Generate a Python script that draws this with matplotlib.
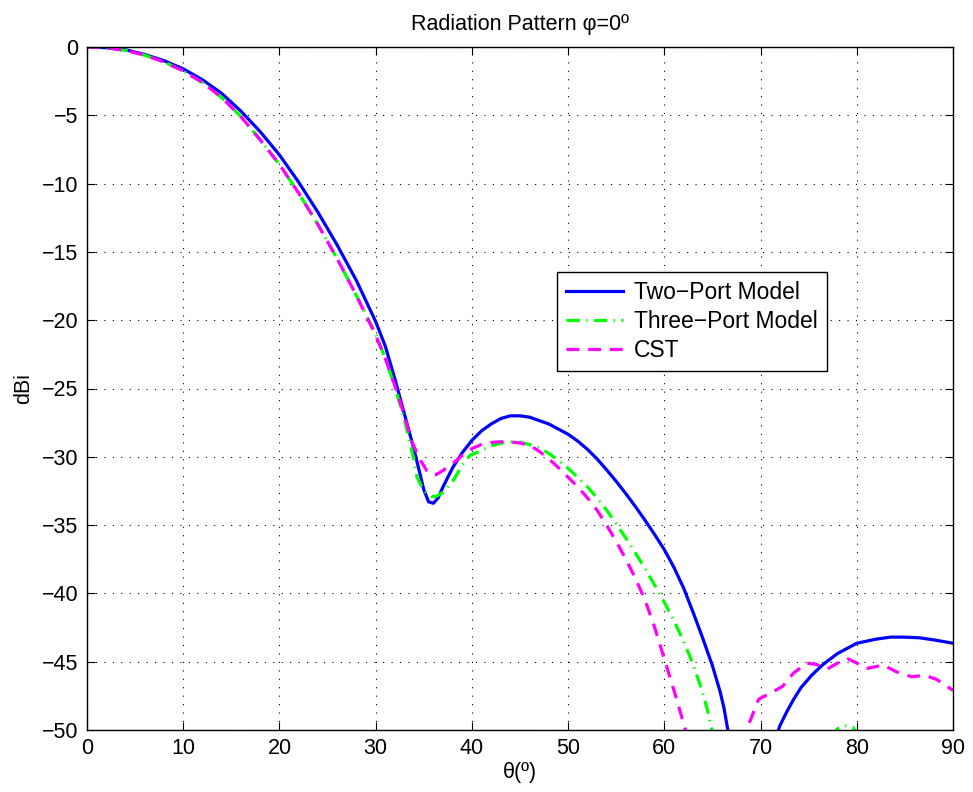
import numpy as np
import matplotlib
matplotlib.use("Agg")
import matplotlib.pyplot as plt

plt.rcParams['font.family'] = ['Liberation Sans', 'DejaVu Sans']

# Two-Port Model (blue solid)
theta_two = [0, 2, 4, 6, 8, 10, 12, 14, 16, 18, 20, 22, 24, 26, 28, 30, 31, 32, 33, 34, 35, 35.5, 36,
             36.5, 37, 38, 39, 40, 41, 42, 43, 44, 45, 46, 48, 50, 51, 52, 53, 54, 55, 56, 57, 58, 59, 60,
             61, 62, 63, 64, 65, 65.8, 66.2, 66.6, 67.0, np.nan,
             71.4, 72, 72.7, 73.4, 74.2, 75.3, 76.5, 78, 80, 82, 83.5, 84.8, 86.5, 88, 90]
db_two = [0, -0.05, -0.2, -0.55, -1.0, -1.6, -2.4, -3.4, -4.7, -6.2, -7.9, -9.9, -12.1, -14.5, -17.1,
          -20.1, -21.9, -24.3, -26.9, -29.5, -32.4, -33.3, -33.4, -33.0, -32.2, -30.8, -29.7, -28.8, -28.1,
          -27.6, -27.2, -27.0, -27.0, -27.1, -27.6, -28.35, -28.85, -29.45, -30.15, -30.95, -31.8, -32.7,
          -33.65, -34.65, -35.7, -36.8, -38.1, -39.6, -41.4, -43.3, -45.3, -47.2, -48.4, -50.0, -51.5, np.nan,
          -51.0, -49.7, -48.7, -47.8, -46.9, -46.0, -45.2, -44.4, -43.65, -43.35, -43.2, -43.2, -43.25,
          -43.4, -43.65]

# Three-Port Model (green dash-dot)
theta_three = [0, 2, 4, 6, 8, 10, 12, 14, 16, 18, 20, 22, 24, 26, 28, 30, 31, 32, 33, 34, 34.3, 35,
               35.8, 36.3, 37, 38.1, 39, 39.8, 40.8, 42, 43, 44, 45, 46, 47, 48, 49, 50, 51, 52, 53, 54,
               55, 56, 57, 58, 59, 60, 61, 62, 63, 64, 64.5, 65, 65.3, np.nan,
               77.3, 78, 78.8, 79.6, 80.3]
db_three = [0, -0.06, -0.25, -0.6, -1.1, -1.75, -2.6, -3.7, -5.1, -6.8, -8.6, -10.7, -13.0, -15.5, -18.2,
            -21.0, -22.8, -24.9, -27.3, -30.3, -31.5, -32.5, -32.9, -32.9, -32.6, -31.7, -30.6, -29.9,
            -29.6, -29.2, -29.0, -28.9, -28.95, -29.1, -29.35, -29.75, -30.25, -30.85, -31.5, -32.2, -33.0,
            -33.9, -34.9, -35.95, -37.05, -38.2, -39.4, -40.65, -42.0, -43.5, -45.2, -47.3, -48.6, -50.2,
            -51.0, np.nan,
            -50.6, -49.9, -49.7, -49.8, -50.6]

# CST (magenta dashed)
theta_cst = [0, 2, 4, 6, 8, 10, 12, 14, 16, 18, 20, 22, 24, 26, 28, 30, 31, 32, 33, 33.7, 34.6, 35.3,
             35.8, 36.3, 37, 38, 39, 40, 41, 42, 43, 44, 45, 46, 47, 48, 49, 50, 51, 52, 53, 54, 55, 56,
             57, 58, 59, 60, 61, 62, 62.6, np.nan,
             68.2, 68.6, 69.8, 71.3, 72.3, 73.4, 74.8, 75.8, 76.9, 78, 79.1, 80, 81.0, 82.75, 84.15,
             85.7, 87.1, 88.3, 90]
db_cst = [0, -0.06, -0.25, -0.6, -1.1, -1.75, -2.6, -3.7, -5.1, -6.8, -8.6, -10.7, -13.0, -15.5, -18.2,
          -21.1, -22.8, -24.8, -27.0, -28.8, -30.2, -31.0, -31.3, -31.3, -31.0, -30.5, -29.9, -29.4, -29.1,
          -28.95, -28.9, -28.9, -29.0, -29.15, -29.6, -30.15, -30.8, -31.5, -32.2, -33.0, -33.9, -35.0,
          -36.2, -37.5, -38.9, -40.5, -42.5, -44.8, -47.1, -49.5, -51.0, np.nan,
          -51.0, -49.9, -47.75, -47.2, -46.8, -45.85, -45.1, -45.2, -45.55, -45.1, -44.8, -45.1, -45.5,
          -45.25, -45.75, -46.1, -46.0, -46.3, -47.1]

x_ticks = [0, 10, 20, 30, 40, 50, 60, 70, 80, 90]
y_ticks = [0, -5, -10, -15, -20, -25, -30, -35, -40, -45, -50]

fig = plt.figure(figsize=(9.73, 7.92), dpi=100)
ax = fig.add_axes([87/973, 1 - 730/792, 866/973, 683/792])

ax.plot(theta_two, db_two, color=(0, 0, 1), lw=2.3, label='Two\u2212Port Model')
ax.plot(theta_three, db_three, color=(0, 1, 0), lw=2.3, label='Three\u2212Port Model',
        dashes=(4.2, 2.0, 0.4, 2.0))
ax.plot(theta_cst, db_cst, color=(1, 0, 1), lw=2.3, label='CST', dashes=(4.0, 2.8))

ax.set_xlim(0, 90)
ax.set_ylim(-50, 0)
ax.set_xticks(x_ticks)
ax.set_yticks(y_ticks)
ax.tick_params(direction='in', length=6, width=0.8, labelsize=15.5, top=True, right=True, pad=6)
ax.grid(True, linestyle=(0, (1, 6.6)), color='black', linewidth=0.8)
for s in ax.spines.values():
    s.set_linewidth(1.0)

ax.set_title('Radiation Pattern \u03c6=0\u00ba', fontsize=15.5, pad=12)
ax.set_xlabel('\u03b8(\u00ba)', fontsize=15.5, labelpad=2)
ax.set_ylabel('dBi', fontsize=15.5, labelpad=6)

leg = ax.legend(loc='upper left', bbox_to_anchor=((557 - 87) / 866, (730 - 272) / 683),
                fontsize=16.5, frameon=True, fancybox=False, framealpha=1, edgecolor='black',
                handlelength=2.5, borderpad=0.4, labelspacing=0.25, handletextpad=0.45, borderaxespad=0)
leg.get_frame().set_linewidth(1.0)

fig.savefig('out.png', dpi=100)
